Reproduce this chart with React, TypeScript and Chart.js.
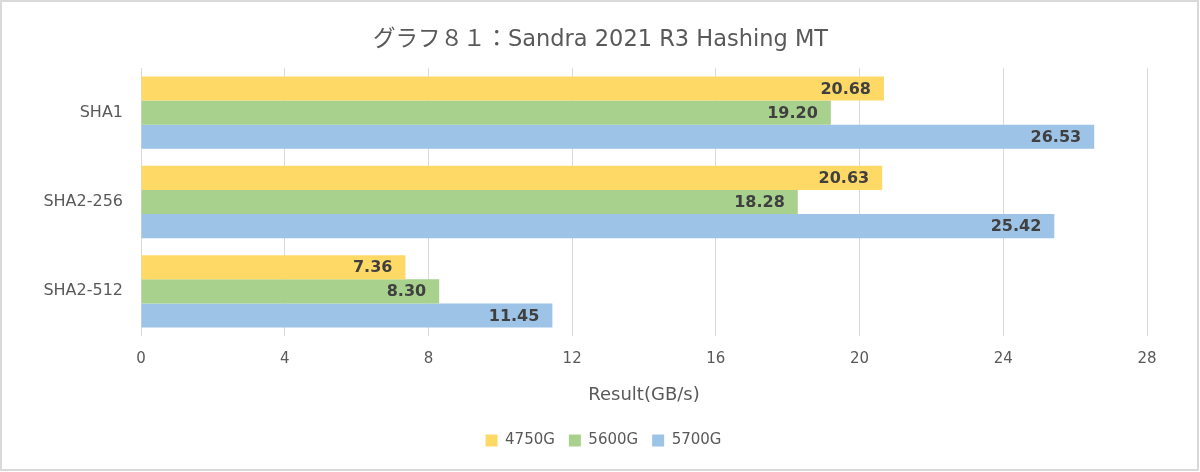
import React, { useEffect, useRef } from "react";
import { Chart, registerables } from "chart.js";

Chart.register(...registerables);

const TITLE = "グラフ８１：Sandra 2021 R3 Hashing MT";
const CATEGORIES = ["SHA1", "SHA2-256", "SHA2-512"];
const SERIES_NAMES = ["4750G", "5600G", "5700G"];
const VALUES_4750G = [20.68, 20.63, 7.36];
const VALUES_5600G = [19.2, 18.28, 8.3];
const VALUES_5700G = [26.53, 25.42, 11.45];
const COLORS = ["#FFD966", "#A9D18E", "#9DC3E6"];
const X_MIN = 0;
const X_MAX = 28;
const X_STEP = 4;
const X_TITLE = "Result(GB/s)";

const FONT = '"DejaVu Sans", "Noto Sans CJK JP", sans-serif';

const dataLabelPlugin = {
  id: "dataLabels",
  afterDatasetsDraw(chart: any) {
    const ctx = chart.ctx;
    ctx.save();
    ctx.font = `bold 16px ${FONT}`;
    ctx.fillStyle = "#404040";
    ctx.textAlign = "right";
    ctx.textBaseline = "middle";
    chart.data.datasets.forEach((ds: any, i: number) => {
      const meta = chart.getDatasetMeta(i);
      meta.data.forEach((el: any, j: number) => {
        const v = ds.data[j];
        ctx.fillText(v.toFixed(2), el.x - 13, el.y + 1);
      });
    });
    ctx.restore();
  },
};

const shiftPlugin = {
  id: "shiftBlocks",
  afterLayout(chart: any) {
    const lg = chart.legend;
    if (lg) {
      lg.left += 25;
      lg.right += 25;
    }
    const tb = chart.titleBlock;
    if (tb) {
      tb.left += 22;
      tb.right += 22;
    }
  },
};

const framePlugin = {
  id: "frame",
  afterDraw(chart: any) {
    const ctx = chart.ctx;
    ctx.save();
    ctx.strokeStyle = "#d9d9d9";
    ctx.lineWidth = 2;
    ctx.strokeRect(1, 1, chart.width - 3, chart.height - 3);
    ctx.restore();
  },
};

export default function App() {
  const ref = useRef<HTMLCanvasElement>(null);

  useEffect(() => {
    document.body.style.margin = "0";
    const chart = new Chart(ref.current!, {
      type: "bar",
      data: {
        labels: CATEGORIES,
        datasets: [VALUES_4750G, VALUES_5600G, VALUES_5700G].map((d, i) => ({
          label: SERIES_NAMES[i],
          data: d,
          backgroundColor: COLORS[i],
          borderWidth: 0,
          categoryPercentage: 0.81,
          barPercentage: 1,
        })),
      },
      options: {
        indexAxis: "y",
        responsive: false,
        animation: false,
        layout: { padding: { left: 10, right: 53, top: 0, bottom: 14 } },
        plugins: {
          title: {
            display: true,
            text: TITLE,
            color: "#595959",
            font: { family: FONT, size: 22.5, weight: "normal" },
            padding: { top: 27, bottom: 14 },
          },
          legend: {
            position: "bottom",
            labels: {
              boxWidth: 12,
              boxHeight: 12,
              padding: 14,
              color: "#595959",
              font: { family: FONT, size: 15 },
            },
          },
          tooltip: { enabled: false },
        },
        scales: {
          x: {
            min: X_MIN,
            max: X_MAX,
            ticks: {
              stepSize: X_STEP,
              color: "#595959",
              font: { family: FONT, size: 15 },
              padding: 14,
            },
            grid: { color: "#d9d9d9", drawTicks: false },
            border: { display: false },
            title: {
              display: true,
              text: X_TITLE,
              color: "#595959",
              font: { family: FONT, size: 18 },
              padding: { top: 0, bottom: 13 },
            },
            afterFit(scale: any) {
              scale.height = 83;
            },
          },
          y: {
            ticks: {
              color: "#595959",
              font: { family: FONT, size: 16 },
              padding: 18,
            },
            grid: { display: false, drawTicks: false },
            border: { display: false },
            afterFit(scale: any) {
              scale.width = 131;
            },
          },
        },
      },
      plugins: [dataLabelPlugin, shiftPlugin, framePlugin],
    } as any);
    return () => chart.destroy();
  }, []);

  return (
    <div style={{ width: 1200, height: 472, background: "#fff" }}>
      <canvas ref={ref} width={1200} height={472} />
    </div>
  );
}
